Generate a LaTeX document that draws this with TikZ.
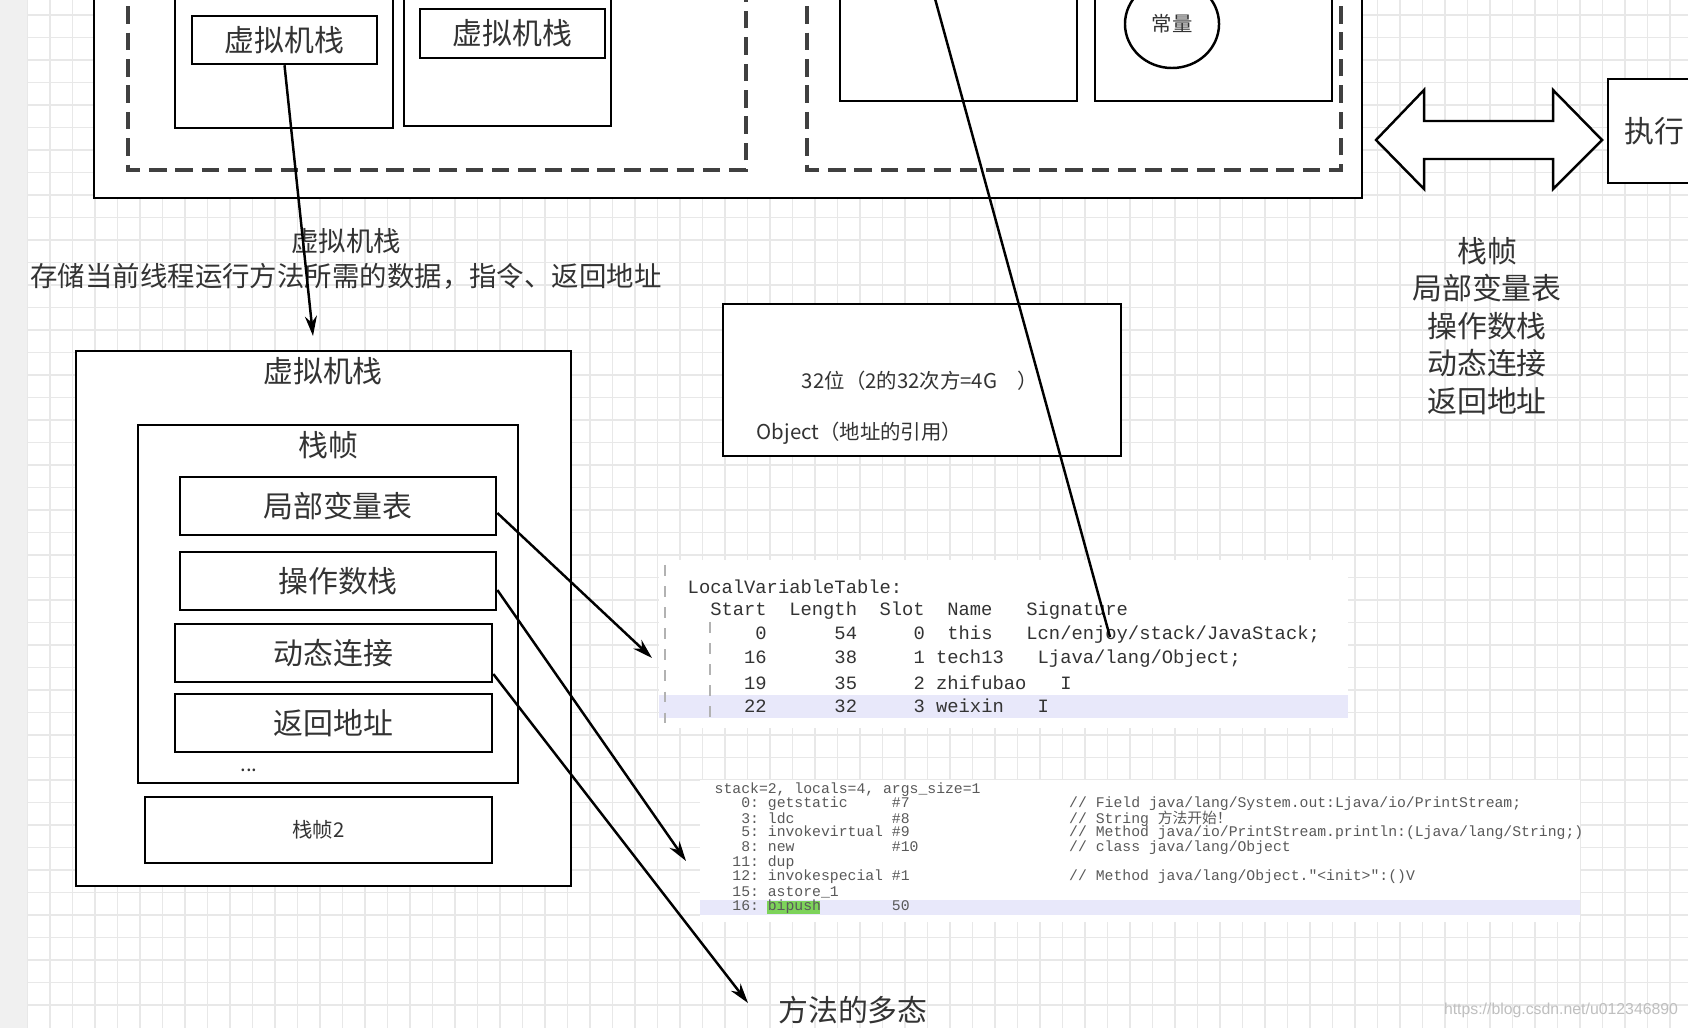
\documentclass[tikz,border=0pt]{standalone}
\usepackage{fontspec}
\setmainfont{Noto Sans CJK SC}
\newfontfamily\codefont{Liberation Mono}
\newfontfamily\linkfont{Liberation Sans}
\usetikzlibrary{arrows.meta,shapes.geometric}
\definecolor{gridgray}{HTML}{E8E8E8}
\definecolor{txtgray}{HTML}{333333}
\definecolor{rowblue}{HTML}{E8E8FA}
\definecolor{hlgreen}{HTML}{7DD35A}
\newcommand\colgap[1]{\hspace*{\dimexpr#1\fontcharwd\font`0\relax}}

\begin{document}
\begin{tikzpicture}[x=0.01cm,y=-0.01cm,
  box/.style={draw, fill=white, line width=0.7pt, inner sep=0pt},
  dashbox/.style={draw=black!75, line width=1.1pt, dash pattern=on 5pt off 2.5pt},
  bigtxt/.style={font=\fontsize{8.5}{10.7}\selectfont, text=txtgray},
  smalltxt/.style={font=\fontsize{5.8}{7}\selectfont, text=txtgray},
  lvtline/.style={anchor=west, inner sep=0pt, font=\codefont\fontsize{5.35}{6}\selectfont, text=txtgray},
  bcline/.style={anchor=west, inner sep=0pt, font=\codefont\fontsize{4.2}{5}\selectfont, text=black!65},
  arr/.style={-{Stealth[length=2mm,width=1.2mm]}, line width=0.7pt}]
  \clip (0,0) rectangle (1688,1028);
  \fill[white] (0,0) rectangle (1688,1028);
  \fill[black!6] (0,0) rectangle (27,1028);
  \foreach \gx in {27.5,50,...,1687} \draw[gridgray, line width=0.3pt] (\gx,0) -- (\gx,1028);
  \foreach \gy in {15,37.5,...,1027} \draw[gridgray, line width=0.3pt] (27,\gy) -- (1688,\gy);

  % top: thread area and method area
  \draw[box] (94,-20) rectangle (1362,198);
  \draw[dashbox] (128,-20) rectangle (746,170);
  \draw[box] (175,-20) rectangle (393,128);
  \draw[box] (404,-20) rectangle (611,126);
  \node[box, bigtxt, minimum width=1.85cm, minimum height=0.48cm] (vmtop) at (284.5,40) {虚拟机栈};
  \node[box, bigtxt, minimum width=1.85cm, minimum height=0.49cm] (vmtopb) at (512.5,33.5) {虚拟机栈};
  \draw[dashbox] (807,-20) rectangle (1341,170);
  \draw[box] (840,-20) rectangle (1077,101);
  \draw[box] (1095,-20) rectangle (1332,101);
  \node[box, ellipse, smalltxt, minimum width=0.94cm, minimum height=0.88cm] (const) at (1172,24) {常量};
  \draw[line width=0.7pt, fill=white] (1376,140) -- (1424,90) -- (1424,121) -- (1553,121) -- (1553,90)
    -- (1602,140) -- (1553,189) -- (1553,159) -- (1424,159) -- (1424,189) -- cycle;
  \node[box, bigtxt, minimum width=0.92cm, minimum height=1.04cm] (exec) at (1654,131) {执行};

  \node[bigtxt, font=\fontsize{7.8}{10.2}\selectfont, align=center] (vmnote) at (346,259)
    {虚拟机栈\\存储当前线程运行方法所需的数据，指令、返回地址};
  \node[bigtxt, align=center] (framelist) at (1487,326) {栈帧\\局部变量表\\操作数栈\\动态连接\\返回地址};

  \node[box, minimum width=3.98cm, minimum height=1.52cm] (ref32) at (922,380) {};
  \node[smalltxt, inner sep=0pt] (bits) at (920,381) {32位（2的32次方=4G　）};
  \node[smalltxt, inner sep=0pt, anchor=west] (objref) at (756,433) {Object（地址的引用）};

  % stack and its frames
  \node[box, minimum width=4.95cm, minimum height=5.35cm] (vmstack) at (323.5,618.5) {};
  \node[bigtxt] (vmtitle) at (323,371) {虚拟机栈};
  \node[box, minimum width=3.8cm, minimum height=3.58cm] (frame) at (328,604) {};
  \node[bigtxt] (frametitle) at (328,445) {栈帧};
  \node[box, bigtxt, minimum width=3.16cm, minimum height=0.58cm] (lvt) at (338,506) {局部变量表};
  \node[box, bigtxt, minimum width=3.16cm, minimum height=0.58cm] (opstack) at (338,581) {操作数栈};
  \node[box, bigtxt, minimum width=3.17cm, minimum height=0.58cm] (dynlink) at (333.5,653) {动态连接};
  \node[box, bigtxt, minimum width=3.17cm, minimum height=0.58cm] (retaddr) at (333.5,723) {返回地址};
  \node[smalltxt] (more) at (249,770) {...};
  \node[box, smalltxt, minimum width=3.47cm, minimum height=0.66cm] (frame2) at (318.5,830) {栈帧2};

  % javap output: local variable table
  \fill[white] (659,560) rectangle (1348,728);
  \fill[rowblue] (659,695) rectangle (1348,718);
  \draw[black!30, dashed, line width=0.3pt] (665,565) -- (665,728);
  \draw[black!30, dashed, line width=0.3pt] (710,622) -- (710,718);
  \node[lvtline] (lvthead) at (687,587) {LocalVariableTable:};
  \node[lvtline] (lvtcols) at (687,611) {\colgap{2}Start\colgap{2}Length\colgap{2}Slot\colgap{2}Name\colgap{3}Signature};
  \node[lvtline] (lvtrowa) at (687,635) {\colgap{6}0\colgap{6}54\colgap{5}0\colgap{2}this\colgap{3}Lcn/enjoy/stack/JavaStack;};
  \node[lvtline] (lvtrowb) at (687,659) {\colgap{5}16\colgap{6}38\colgap{5}1\colgap{1}tech13\colgap{3}Ljava/lang/Object;};
  \node[lvtline] (lvtrowc) at (687,683) {\colgap{5}19\colgap{6}35\colgap{5}2\colgap{1}zhifubao\colgap{3}I};
  \node[lvtline] (lvtrowd) at (687,706) {\colgap{5}22\colgap{6}32\colgap{5}3\colgap{1}weixin\colgap{3}I};

  % javap output: byte code
  \fill[white] (700,780) rectangle (1580,922);
  \fill[rowblue] (700,900) rectangle (1580,915);
  \fill[hlgreen] (767,901) rectangle (820,914);
  \node[bcline] (bca) at (714,790) {stack=2,\colgap{1}locals=4,\colgap{1}args\_size=1};
  \node[bcline] (bcb) at (714,804) {\colgap{3}0:\colgap{1}getstatic\colgap{5}\#7\colgap{18}// Field java/lang/System.out:Ljava/io/PrintStream;};
  \node[bcline] (bcc) at (714,819) {\colgap{3}3:\colgap{1}ldc\colgap{11}\#8\colgap{18}// String {\normalfont 方法开始！}};
  \node[bcline] (bcd) at (714,833) {\colgap{3}5:\colgap{1}invokevirtual\colgap{1}\#9\colgap{18}// Method java/io/PrintStream.println:(Ljava/lang/String;)};
  \node[bcline] (bce) at (714,848) {\colgap{3}8:\colgap{1}new\colgap{11}\#10\colgap{17}// class java/lang/Object};
  \node[bcline] (bcf) at (714,863) {\colgap{2}11:\colgap{1}dup};
  \node[bcline] (bcg) at (714,877) {\colgap{2}12:\colgap{1}invokespecial\colgap{1}\#1\colgap{18}// Method java/lang/Object."<init>":()V};
  \node[bcline] (bch) at (714,892) {\colgap{2}15:\colgap{1}astore\_1};
  \node[bcline] (bci) at (714,907) {\colgap{2}16:\colgap{1}bipush\colgap{8}50};

  \node[bigtxt] (poly) at (853,1010) {方法的多态};
  \node[font=\linkfont\fontsize{4.5}{5}\selectfont, text=black!25] (mark) at (1561,1010) {https://blog.csdn.net/u012346890};

  \coordinate (vmend) at (313,336);
  \coordinate (lvtend) at (652,658);
  \coordinate (opsend) at (686,861);
  \coordinate (dynend) at (748,1003);
  \coordinate (lnktop) at (934,-5);
  \coordinate (lnkend) at (1110,637);
  \draw[arr] (vmtop.south) -- (vmend);
  \draw[arr] ([yshift=-0.07cm]lvt.east) -- (lvtend);
  \draw[arr] ([yshift=-0.09cm]opstack.east) -- (opsend);
  \draw[arr] ([yshift=-0.21cm]dynlink.east) -- (dynend);
  \draw[line width=0.7pt] (lnktop) -- (lnkend);
\end{tikzpicture}
\end{document}
